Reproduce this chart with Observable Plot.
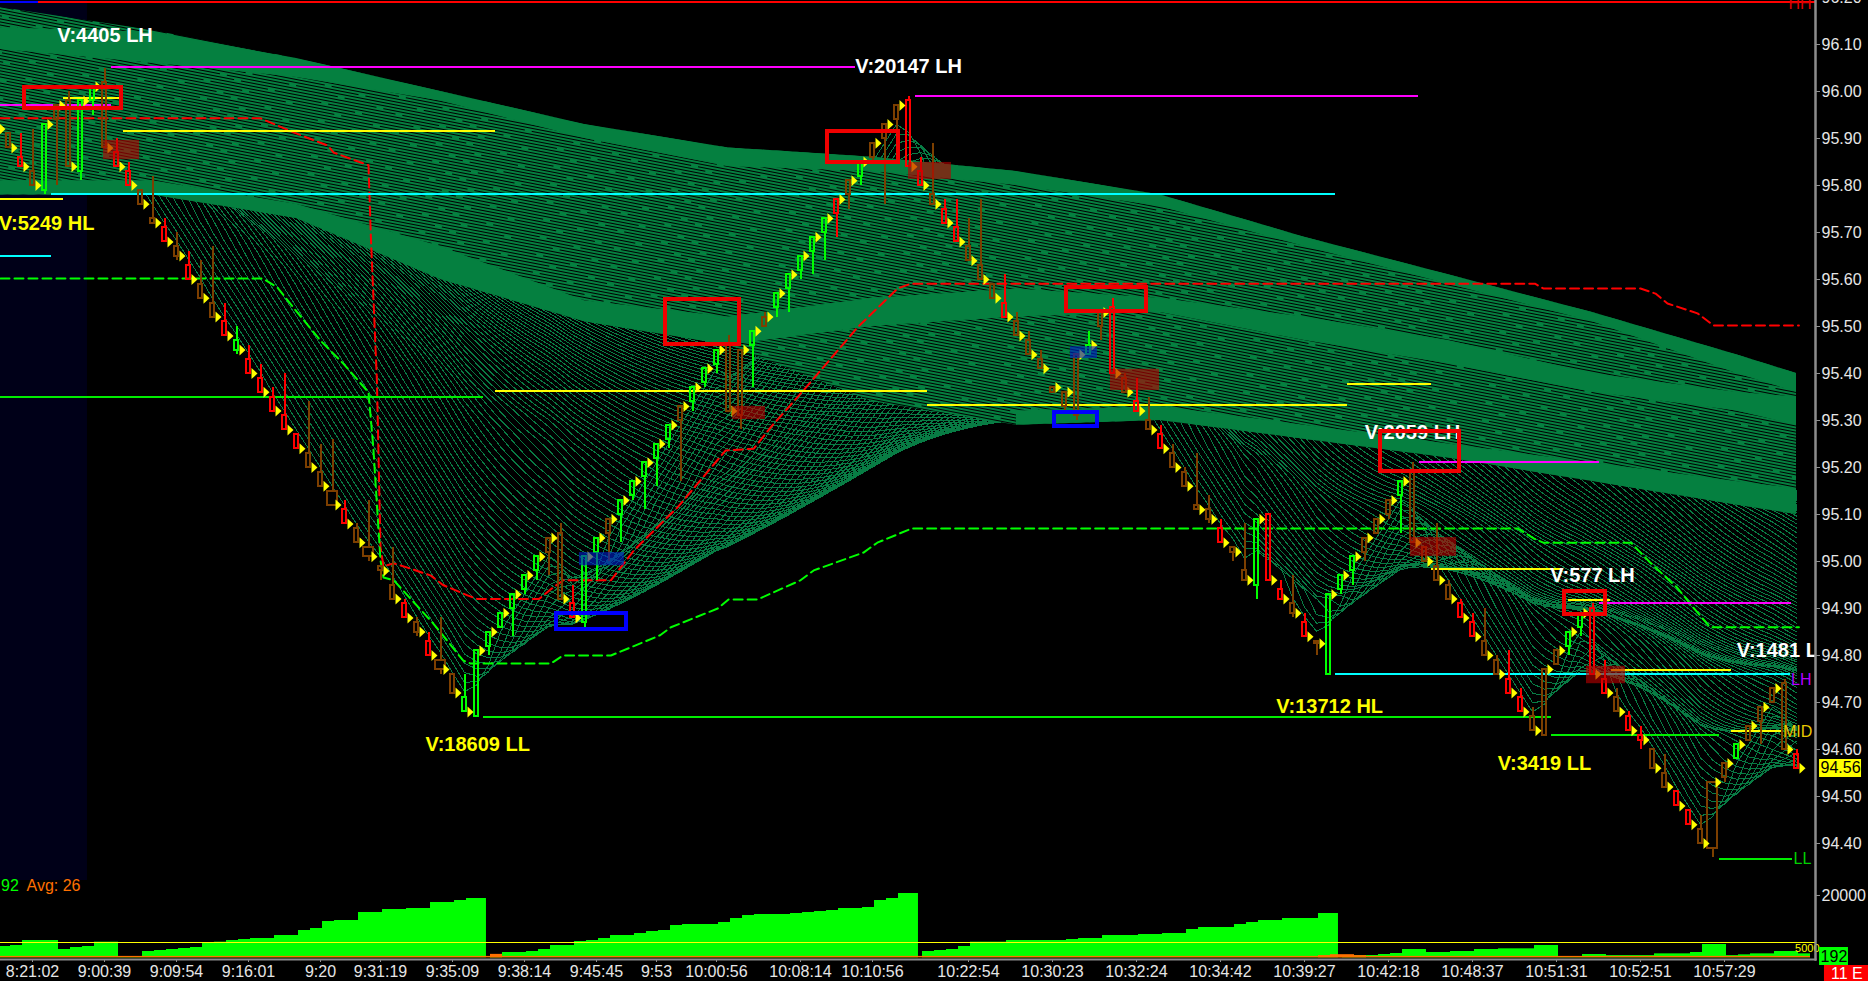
<!DOCTYPE html>
<html><head><meta charset="utf-8">
<script src="https://cdn.jsdelivr.net/npm/d3@7"></script>
<script src="https://cdn.jsdelivr.net/npm/@observablehq/plot@0.6"></script>
<style>
html,body{margin:0;padding:0;background:#000;overflow:hidden}
#wrap{position:relative;width:1868px;height:981px;background:#000;overflow:hidden}
#wrap svg{position:absolute;left:0;top:0;background:transparent}
</style></head><body><div id="wrap"></div>
<script>
// Price bars. Bar number = array position - 1 (the first one is cut by the left edge).
const open = [95.95,
95.91,95.86,95.83,95.79,95.94,95.98,95.83,95.98,96.02,95.87,
95.83,95.79,95.73,95.71,95.67,95.63,95.59,95.55,95.51,95.47,
95.43,95.39,95.35,95.31,95.27,95.23,95.19,95.15,95.11,95.07,
95.03,94.99,94.95,94.91,94.87,94.83,94.79,94.76,94.71,94.67,
94.82,94.86,94.90,94.94,94.98,95.02,95.06,94.91,94.87,95.02,
95.06,95.10,95.14,95.18,95.22,95.26,95.30,95.34,95.38,95.42,
95.46,95.31,95.46,95.50,95.54,95.58,95.62,95.66,95.70,95.74,
95.78,95.82,95.86,95.90,95.94,95.98,95.83,95.78,95.75,95.71,
95.67,95.63,95.59,95.55,95.51,95.47,95.43,95.36,95.33,95.31,
95.44,95.50,95.54,95.39,95.34,95.30,95.27,95.23,95.19,95.12,
95.11,95.07,95.03,94.98,94.95,95.10,94.94,94.91,94.87,94.83,
94.76,94.94,94.98,95.02,95.06,95.10,95.14,95.19,95.03,94.99,
94.95,94.91,94.87,94.83,94.79,94.75,94.71,94.67,94.63,94.78,
94.82,94.86,94.90,94.75,94.71,94.67,94.63,94.60,94.55,94.51,
94.47,94.43,94.39,94.54,94.58,94.62,94.66,94.70,94.74,94.59];
const close = [95.92,
95.88,95.84,95.80,95.93,95.97,95.84,95.98,96.01,95.88,95.84,
95.80,95.76,95.72,95.68,95.65,95.60,95.56,95.52,95.48,95.45,
95.40,95.36,95.32,95.28,95.24,95.20,95.16,95.12,95.08,95.04,
95.01,94.98,94.92,94.88,94.85,94.80,94.77,94.72,94.68,94.81,
94.85,94.89,94.93,94.97,95.01,95.05,94.92,94.88,95.01,95.05,
95.09,95.13,95.17,95.21,95.25,95.29,95.33,95.37,95.41,95.45,
95.32,95.45,95.49,95.52,95.57,95.61,95.65,95.69,95.73,95.77,
95.81,95.85,95.89,95.93,95.97,95.84,95.80,95.76,95.72,95.68,
95.64,95.60,95.56,95.52,95.48,95.44,95.41,95.37,95.36,95.44,
95.46,95.53,95.40,95.36,95.32,95.28,95.24,95.20,95.16,95.11,
95.09,95.04,95.02,94.96,95.09,94.96,94.92,94.89,94.84,94.825,
94.93,94.97,95.01,95.05,95.09,95.13,95.17,95.04,95.00,94.96,
94.92,94.88,94.84,94.80,94.76,94.72,94.68,94.64,94.77,94.81,
94.85,94.89,94.76,94.72,94.68,94.64,94.62,94.56,94.52,94.48,
94.44,94.40,94.53,94.57,94.61,94.65,94.69,94.73,94.60,94.56];
const high = [95.95,
95.91,95.91,95.92,95.93,95.97,96.00,95.98,96.01,96.05,95.90,
95.85,95.79,95.82,95.73,95.70,95.66,95.64,95.67,95.55,95.50,
95.46,95.42,95.37,95.40,95.27,95.34,95.25,95.26,95.13,95.08,
95.13,94.99,95.03,94.92,94.88,94.85,94.88,94.76,94.76,94.81,
94.85,94.89,94.93,94.97,95.01,95.05,95.08,94.95,95.01,95.05,
95.09,95.13,95.17,95.21,95.25,95.29,95.33,95.37,95.41,95.45,
95.48,95.45,95.49,95.53,95.57,95.61,95.65,95.69,95.73,95.77,
95.81,95.85,95.89,95.93,95.97,95.99,95.86,95.89,95.77,95.77,
95.73,95.77,95.59,95.61,95.53,95.49,95.45,95.37,95.36,95.44,
95.49,95.53,95.56,95.40,95.39,95.35,95.29,95.25,95.20,95.23,
95.14,95.09,95.03,95.08,95.09,95.10,94.96,94.97,94.89,94.83,
94.93,94.97,95.01,95.05,95.09,95.13,95.17,95.21,95.03,95.08,
94.96,94.92,94.89,94.90,94.80,94.81,94.73,94.69,94.77,94.81,
94.85,94.89,94.91,94.79,94.73,94.68,94.65,94.60,94.59,94.51,
94.47,94.46,94.53,94.57,94.61,94.65,94.69,94.73,94.75,94.60];
const low = [95.92,
95.88,95.84,95.80,95.78,95.80,95.84,95.81,95.95,95.88,95.84,
95.80,95.76,95.72,95.68,95.64,95.60,95.56,95.52,95.48,95.44,
95.40,95.36,95.32,95.28,95.24,95.20,95.16,95.12,95.08,95.04,
95.00,94.96,94.92,94.88,94.84,94.80,94.76,94.72,94.68,94.67,
94.80,94.86,94.84,94.93,94.96,94.97,94.92,94.88,94.86,94.96,
95.00,95.04,95.13,95.11,95.16,95.24,95.17,95.32,95.37,95.40,
95.32,95.28,95.37,95.50,95.52,95.53,95.60,95.61,95.64,95.69,
95.75,95.80,95.85,95.76,95.90,95.84,95.80,95.76,95.72,95.68,
95.64,95.60,95.56,95.52,95.48,95.44,95.41,95.36,95.32,95.30,
95.44,95.47,95.40,95.36,95.32,95.28,95.24,95.20,95.16,95.11,
95.08,95.04,95.00,94.96,94.92,94.96,94.92,94.88,94.84,94.80,
94.76,94.93,94.95,95.00,95.06,95.09,95.06,95.04,95.00,94.96,
94.92,94.88,94.84,94.80,94.76,94.72,94.68,94.64,94.63,94.78,
94.80,94.84,94.76,94.72,94.68,94.64,94.60,94.56,94.52,94.48,
94.44,94.40,94.37,94.53,94.58,94.62,94.61,94.70,94.60,94.56];
const barType = ("b"+
"brbgbbggbr"+"rbbrbrbbrg"+"rrrrrbbbrb"+"bbbrbrbbgg"+"gggggbbrgg"+
"bgggggbggg"+"bbgbgggggr"+"bgbbbrrbrr"+"bbbrbbbbbb"+"gbrbrbrbbb"+
"brbbgrrbrb"+"gggbbbgbbb"+"brrbbrrbbb"+"ggrrbrrbbr"+"rbbbgbbbbr").split("");
const wideBars = [27,30,36,142];

// Closes before the left edge are not in the picture. They are a rough estimate from how high the
// ribbon starts, used only so that the long averages have something to average; never drawn as bars.
const priorCloses = [
96.34,96.33,96.35,96.32,96.30,96.33,96.31,96.29,96.32,96.30,
96.28,96.30,96.27,96.29,96.26,96.24,96.27,96.25,96.23,96.26,
96.24,96.22,96.25,96.22,96.20,96.23,96.21,96.18,96.21,96.19,
96.17,96.20,96.18,96.15,96.18,96.16,96.13,96.16,96.14,96.11,
96.14,96.12,96.09,96.12,96.10,96.07,96.10,96.08,96.05,96.08,
96.06,96.03,96.06,96.04,96.01,96.04,96.02,95.99,96.02,96.00,
95.97,96.00,95.98,95.95,95.98,95.96,95.93,95.96,95.94,95.91,
95.94,95.97,95.94,95.91,95.95,95.98,95.95,95.92,95.96,95.93];

// Volume per bar (same numbering)
const volume = [3627,
3948,5553,5553,5553,2664,3306,3627,5018,5018,300,
300,2022,2343,2664,2985,3306,4590,5018,5553,5874,
6195,6195,7158,7158,8763,9405,11652,11973,11973,14541,
14541,15504,15504,15825,15825,17751,17751,18393,19035,19035,
100,1701,1701,2022,2664,3948,3948,5232,5553,6195,
7158,7158,7800,8442,8763,10368,10689,10689,10689,11331,
12615,13578,13899,13899,13899,14220,14541,14862,15183,15825,
15825,16146,18393,19035,20640,20640,2022,2343,2664,3627,
5018,5018,5018,5553,5553,5553,5553,5553,5874,6195,
6195,7158,7158,7158,7479,7479,7800,7800,9086,9726,
9726,9726,10689,11331,11973,11973,12615,12615,12615,14220,
14220,100,738,738,1059,1380,2664,2664,1701,1701,
2022,2022,2664,2664,2879,2879,2879,3948,3948,100,
100,1059,1059,700,700,700,700,1270,1270,1270,
1700,4270,4270,700,950,1270,1270,2020,2020,1270];
const shortVolumeBars = [39,75,110];   // the count resets part-way through these bars
const avgVolume = 450;
const avgBumpBar = [40,109,110,111,112];
const avgBumpVal = [1100,700,1000,1000,700];
const volumeGuide = 5000;

// Ribbon outlines, price at each knot
const knotBar   = [-1,12,24,36,48,60,72,84,96,108,120,132,144,149];
const ribbonTop = [96.18,96.13,96.07,96.00,95.93,95.88,95.86,95.83,95.78,95.69,95.61,95.53,95.44,95.40];
const ribbonLow = [95.78,95.78,95.73,95.60,95.51,95.46,95.34,95.29,95.30,95.26,95.22,95.17,95.12,95.10];
const bandATop  = [96.136,96.126,96.07,96.00,95.93,95.88,95.86,95.83,95.78,95.69,95.61,95.53,95.44,95.40];
const bandALow  = [96.09,96.06,96.03,95.98,95.90,95.84,95.83,95.80,95.755,95.67,95.59,95.51,95.40,95.36];
const bandBTop  = [95.81,95.81,95.76,95.67,95.555,95.52,95.56,95.58,95.56,95.52,95.47,95.40,95.36,95.35];
const bandBLow  = [95.78,95.78,95.73,95.60,95.51,95.46,95.50,95.52,95.53,95.47,95.42,95.36,95.32,95.29];
const bandCTop  = [95.32,95.33,95.29,95.25,95.21,95.17,95.155];
const bandCLow  = [95.29,95.30,95.26,95.22,95.17,95.12,95.10];
const bandCKnot = [84,96,108,120,132,144,149];

// Stepped dashed envelopes: bar, price
const redDashBar = [-.67,21,23.75,26.6,27.1,30,30.2,30.7,31,31.25,32.1,33.25,35.2,36.2,38.25,39.1,44.2,45.4,46.25,50.2,52.1,54.9,55.75,59.75,62.1,63.5,66.25,70.75,74.1,75.2,127.2,127.9,136,137.25,138.25,140.75,142.1,149.2];
const redDashPrice = [95.943,95.943,95.913,95.885,95.87,95.843,95.689,95.385,95.03,94.99,94.996,94.987,94.97,94.95,94.928,94.92,94.92,94.945,94.96,94.96,95.023,95.094,95.115,95.236,95.24,95.285,95.364,95.498,95.581,95.591,95.591,95.581,95.581,95.57,95.549,95.528,95.502,95.502];
const greenDashBar = [-.67,21.2,22.4,23.75,26,27.9,30,30.4,30.75,31,31.25,32.1,35.4,37.9,38.5,45.2,46.2,50.2,54.3,55.2,59.1,60,62.4,66,67.1,71.25,72.4,74.3,75.25,125.8,127.1,127.9,135.2,136.8,139.1,140.4,141.8,149.2];
const greenDashPrice = [95.602,95.602,95.583,95.54,95.47,95.421,95.36,95.243,95.102,95.002,94.966,94.96,94.868,94.789,94.783,94.783,94.8,94.8,94.843,94.86,94.9,94.919,94.919,94.96,94.981,95.019,95.04,95.06,95.07,95.07,95.049,95.04,95.04,94.998,94.943,94.902,94.86,94.86];

// Horizontal levels: [first bar, last bar, price]
const magentaLevels = [[-.67,8.6,95.972],[8.6,70.6,96.053],[75.6,117.5,95.991],[117.6,132.6,95.211],[132.6,148.6,94.911]];
const yellowLevels = [[4.6,9.25,95.987],[-.67,4.6,95.772],[9.6,40.6,95.917],[40.6,76.6,95.362],[76.6,111.6,95.332],[111.6,118.6,95.377],[118.6,129.6,94.985],[130,133.5,94.919],[133.6,143.6,94.77],[143.6,147.9,94.64]];
const cyanLevels = [[-.67,3.6,95.651],[3.6,110.6,95.781],[110.6,148.5,94.76]];
const greenLevels = [[-.67,39.6,95.351],[39.6,128.6,94.67],[128.6,142.6,94.63],[142.6,148.7,94.368]];

// Zones and boxes: [first bar, last bar, high price, low price]
const redZones = [[7.92,10.92,95.896,95.855],[60.33,63.08,95.33,95.302],[75,78.58,95.849,95.813],[91.83,95.92,95.409,95.364],[116.83,120.67,95.051,95.011],[131.5,134.75,94.777,94.74]];
const blueZones = [[47.58,51.33,95.019,94.991],[88.5,90.75,95.457,95.432]];
const redBoxes = [[1.33,9.42,96.009,95.964],[54.75,60.92,95.557,95.462],[68.25,74.17,95.915,95.849],[88.17,94.83,95.583,95.532],[114.33,120.92,95.277,95.191],[129.67,133.08,94.936,94.887]];
const blueBoxes = [[45.67,51.5,94.889,94.855],[87.17,90.75,95.317,95.287]];

// Labels: [text, bar, price]
const whiteNotes = [["V:4405 LH",8.04,96.119],["V:20147 LH",75,96.053],["V:2059 LH",117,95.274],["V:577 LH",132,94.97],["V:1481 L",147.4,94.81]];
const yellowNotes = [["V:5249 HL",3.17,95.719],["V:18609 LL",39.1,94.61],["V:13712 HL",110.1,94.692],["V:3419 LL",128,94.57]];
const sideNotes = [["LH",149.4,94.749,"#b400ff"],["MID",149.1,94.638,"#e8c800"],["LL",149.5,94.368,"#00d000"],["HH",149.3,96.187,"#e00000"]];

const priceTicks = [94.4,94.5,94.6,94.7,94.8,94.9,95,95.1,95.2,95.3,95.4,95.5,95.6,95.7,95.8,95.9,96,96.1,96.2];
const timeBars = [2,8,14,20,26,31,37,43,49,54,59,66,72,80,87,94,101,108,115,122,129,136,143];
const timeLabels = ["8:21:02","9:00:39","9:09:54","9:16:01","9:20","9:31:19","9:35:09","9:38:14","9:45:45","9:53","10:00:56","10:08:14","10:10:56","10:22:54","10:30:23","10:32:24","10:34:42","10:39:27","10:42:18","10:48:37","10:51:31","10:52:51","10:57:29"];
const lastPrice = 94.56;

// ---------- tables for the library ----------
const bars = open.map((o,k)=>({i:k-1,open:o,close:close[k],high:high[k],low:low[k],type:barType[k],volume:volume[k],
  top:Math.max(o,close[k]),bot:Math.min(o,close[k]),half:wideBars.includes(k-1)?0.42:0.2,
  volEnd:shortVolumeBars.includes(k-1)?k-1+0.83:k-1+7/6}));
const fanBars = [...priorCloses.map((c,k)=>({i:k-priorCloses.length-1,close:c})),...bars];
const shade = {b:"#7d3f00",g:"#00ff00",r:"#ff0000"};
const ribbon = knotBar.map((i,k)=>({i,top:ribbonTop[k],low:ribbonLow[k],aT:bandATop[k],aL:bandALow[k],bT:bandBTop[k],bL:bandBLow[k]}));
const bandC = bandCKnot.map((i,k)=>({i,t:bandCTop[k],l:bandCLow[k]}));
const dashRed = redDashBar.map((i,k)=>({i,p:redDashPrice[k]}));
const dashGreen = greenDashBar.map((i,k)=>({i,p:greenDashPrice[k]}));
const seg = a=>a.map(([s,e,p])=>({s,e,p}));
const box = a=>a.map(([s,e,h,l])=>({s,e,h,l}));

// the fan: simple moving averages of the closes, one per window length
const fanWindows = d3.range(3,121);

const GREEN = "#058040";
const W=1868,H=981,MB=22,MR=53;
const xDomain=[-2/3,(W-MR-8)/12];
const pY=y=>95+(561-y)/470;         // price at the panel's edges
const vY=y=>(957.3-y)*321;          // volume at the panel's edges

// texture of the ribbon: dark streaks along its slope, with staggered breaks
const streakGaps = [[40,170],[95,215],[15,130],[60,190],[110,230],[5,150]];
const streak = () => {
  const d=d3.create("svg:defs");
  const p=d.append("pattern").attr("id","streak").attr("patternUnits","userSpaceOnUse")
    .attr("width",240).attr("height",18).attr("patternTransform","rotate(11)");
  p.append("rect").attr("width",240).attr("height",18).attr("fill",GREEN);
  streakGaps.forEach((gaps,r)=>{
    p.append("rect").attr("x",0).attr("y",r*3).attr("width",240).attr("height",1).attr("fill","#000");
    gaps.forEach(x=>p.append("rect").attr("x",x).attr("y",r*3).attr("width",7).attr("height",1).attr("fill",GREEN));
  });
  return d.node();
};
const tri = {draw(c,size){const r=Math.sqrt(size/Math.PI);c.moveTo(.5*r,-.92*r);c.lineTo(1.5*r,0);c.lineTo(.5*r,.92*r);c.closePath();}};
const crisp = {shapeRendering:"crispEdges"};

const price = Plot.plot({
  width:W,height:H,marginTop:0,marginLeft:0,marginRight:MR,marginBottom:MB,
  x:{domain:xDomain,axis:null},
  y:{domain:[pY(H-MB),pY(0)],axis:null},
  color:{type:"identity"},
  style:{background:"transparent",fontFamily:"'Liberation Sans',Arial,sans-serif"},
  marks:[
    streak,
    Plot.rect([{x1:-2/3,x2:6.58,y1:pY(880),y2:pY(0)}],{x1:"x1",x2:"x2",y1:"y1",y2:"y2",fill:"#000018"}),
    ...fanWindows.map(k=>Plot.lineY(fanBars,Plot.windowY({k,anchor:"end",reduce:"mean",strict:false},{x:"i",y:"close",stroke:"#087c44",strokeWidth:1,shapeRendering:"crispEdges",curve:"linear",clip:"frame"}))),
    Plot.areaY(ribbon,{x:"i",y1:"low",y2:"top",fill:"url(#streak)"}),
    Plot.areaY(ribbon,{x:"i",y1:"aL",y2:"aT",fill:GREEN}),
    Plot.areaY(ribbon,{x:"i",y1:"bL",y2:"bT",fill:GREEN}),
    Plot.areaY(bandC,{x:"i",y1:"l",y2:"t",fill:GREEN}),
    Plot.ruleY([pY(1)],{x1:-2/3,x2:xDomain[1],stroke:"#ff0000",strokeWidth:2,...crisp}),
    Plot.ruleY([pY(1)],{x1:-2/3,x2:2.5,stroke:"#0000ff",strokeWidth:2,...crisp}),
    Plot.line(dashRed,{x:"i",y:"p",stroke:"#ff0000",strokeWidth:2,strokeDasharray:"9,5"}),
    Plot.line(dashGreen,{x:"i",y:"p",stroke:"#00ff00",strokeWidth:2,strokeDasharray:"9,5"}),
    Plot.ruleY(seg(magentaLevels),{x1:"s",x2:"e",y:"p",stroke:"#ff00ff",strokeWidth:2,...crisp}),
    Plot.ruleY(seg(yellowLevels),{x1:"s",x2:"e",y:"p",stroke:"#ffff00",strokeWidth:2,...crisp}),
    Plot.ruleY(seg(cyanLevels),{x1:"s",x2:"e",y:"p",stroke:"#00ffff",strokeWidth:2,...crisp}),
    Plot.ruleY(seg(greenLevels),{x1:"s",x2:"e",y:"p",stroke:"#00ee00",strokeWidth:2,...crisp}),
    Plot.ruleX(bars,{x:"i",y1:"high",y2:"top",stroke:d=>shade[d.type],strokeWidth:2,...crisp}),
    Plot.ruleX(bars,{x:"i",y1:"low",y2:"bot",stroke:d=>shade[d.type],strokeWidth:2,...crisp}),
    Plot.rect(bars,{x1:d=>d.i-d.half,x2:d=>d.i+d.half,y1:"top",y2:"bot",fill:"none",stroke:d=>shade[d.type],strokeWidth:2,...crisp}),
    Plot.dot(bars,{x:"i",y:"close",r:6,symbol:tri,fill:"#ffff00",stroke:"none"}),
    Plot.rect(box(redZones),{x1:"s",x2:"e",y1:"l",y2:"h",fill:"#b80000",fillOpacity:.62}),
    Plot.rect(box(blueZones),{x1:"s",x2:"e",y1:"l",y2:"h",fill:"#0020c8",fillOpacity:.62}),
    Plot.text(whiteNotes,{x:d=>d[1],y:d=>d[2],text:d=>d[0],fill:"#ffffff",fontSize:20,fontWeight:"bold",clip:"frame"}),
    Plot.text(yellowNotes,{x:d=>d[1],y:d=>d[2],text:d=>d[0],fill:"#ffff00",fontSize:20,fontWeight:"bold"}),
    Plot.text(sideNotes,{x:d=>d[1],y:d=>d[2],text:d=>d[0],fill:d=>d[3],fontSize:16}),
    Plot.rect(box(blueBoxes),{x1:"s",x2:"e",y1:"l",y2:"h",fill:"none",stroke:"#0000ff",strokeWidth:4,...crisp}),
    Plot.rect(box(redBoxes),{x1:"s",x2:"e",y1:"l",y2:"h",fill:"none",stroke:"#f00000",strokeWidth:4,...crisp}),
    Plot.axisY(priceTicks,{anchor:"right",tickFormat:d3.format(".2f"),tickSize:4,tickPadding:2,fontSize:16,textStroke:"none",fill:"#e6e6e6",stroke:"#909090",label:null}),
    Plot.frame({anchor:"right",stroke:"#8c8c8c",strokeWidth:2}),
    Plot.rect([{}],{x1:150.92,x2:154.42,y1:pY(777),y2:pY(759),fill:"#ffff00"}),
    Plot.text([lastPrice],{x:152.67,y:d=>d,text:d=>d3.format(".2f")(d),fill:"#000",fontSize:16})
  ]
});

const vol = Plot.plot({
  width:W,height:H,marginTop:0,marginLeft:0,marginRight:MR,marginBottom:MB,
  x:{domain:xDomain,axis:null},
  y:{domain:[vY(H-MB),vY(0)],axis:null},
  style:{background:"transparent",fontFamily:"'Liberation Sans',Arial,sans-serif"},
  marks:[
    Plot.rect(bars,{x1:d=>d.i+1/6,x2:"volEnd",y1:0,y2:"volume",fill:"#00ff00",clip:"frame"}),
    Plot.rect(bars,{x1:d=>d.i+1/6,x2:d=>d.i+7/6,y1:0,y2:avgVolume,fill:"#ff7000",clip:"frame"}),
    Plot.rect(avgBumpBar,{x1:d=>d+1/6,x2:d=>d+7/6,y1:0,y2:(d,k)=>avgBumpVal[k],fill:"#ff7000"}),
    Plot.ruleY([volumeGuide],{x1:-2/3,x2:xDomain[1],stroke:"#ffff00",strokeWidth:1,...crisp}),
    Plot.text(["92"],{x:.125,y:vY(885),text:d=>d,fill:"#00ff00",fontSize:16}),
    Plot.text(["Avg: 26"],{x:3.75,y:vY(885),text:d=>d,fill:"#ff7000",fontSize:16}),
    Plot.text(["5000"],{x:149.9,y:vY(948),text:d=>d,fill:"#ffff00",fontSize:11}),
    Plot.axisX(timeBars,{tickFormat:(d,k)=>timeLabels[timeBars.indexOf(d)],tickSize:3,tickPadding:3,fontSize:16,fill:"#e6e6e6",stroke:"#909090",label:null,textStroke:"none"}),
    Plot.axisY([20000],{anchor:"right",tickFormat:d3.format("d"),tickSize:4,tickPadding:2,fontSize:16,fill:"#e6e6e6",stroke:"#909090",label:null,textStroke:"none"}),
    Plot.frame({anchor:"bottom",stroke:"#8c8c8c",strokeWidth:2}),
    Plot.frame({anchor:"right",stroke:"#8c8c8c",strokeWidth:2}),
    Plot.rect([{}],{x1:150.92,x2:153.33,y1:vY(965),y2:vY(947),fill:"#00ff00"}),
    Plot.text(["192"],{x:152.12,y:vY(956),text:d=>d,fill:"#000",fontSize:16}),
    Plot.rect([{}],{x1:151.33,x2:155,y1:vY(981),y2:vY(965),fill:"#ff0000"}),
    Plot.text(["11 E"],{x:153.2,y:vY(973),text:d=>d,fill:"#fff",fontSize:16})
  ]
});
document.getElementById("wrap").append(price,vol);
</script></body></html>
